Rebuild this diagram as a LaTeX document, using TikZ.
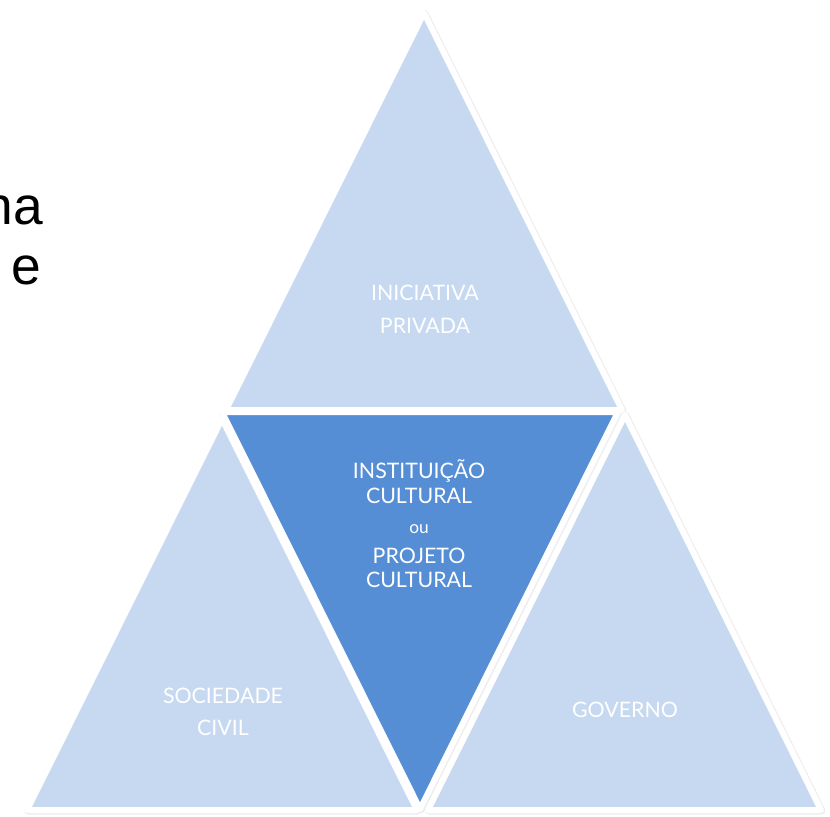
\documentclass[tikz,border=0pt]{standalone}
\usepackage{fontspec}
\setmainfont{Lato}
\newfontfamily\arialfont{Liberation Sans}

\definecolor{paleblue}{RGB}{198,217,241}
\definecolor{midblue}{RGB}{85,142,213}

\tikzset{
  halo/.style={draw=black!7, line width=5.6pt, line join=round},
  tri/.style={draw=white, line width=4.5pt, line join=round},
  lbl/.style={text=white, anchor=base, inner sep=0pt, font=\fontsize{16}{18}\selectfont}
}

\begin{document}
\begin{tikzpicture}[x=0.75pt, y=-0.75pt]
    \useasboundingbox (0,0) rectangle (830,816);
    % soft edges behind the triangles
    \begin{scope}[xshift=0.6pt, yshift=-0.6pt]
        \draw[halo] (424,13) -- (226,410) -- (622,410) -- cycle;
        \draw[halo] (222,419) -- (27,810) -- (417,810) -- cycle;
        \draw[halo] (625,415) -- (428,810) -- (821,810) -- cycle;
        \draw[halo] (222,412) -- (618,412) -- (420,809) -- cycle;
    \end{scope}
    % the four triangles
    \draw[tri, fill=paleblue] (424,13) -- (226,410) -- (622,410) -- cycle;
    \draw[tri, fill=paleblue] (222,419) -- (27,810) -- (417,810) -- cycle;
    \draw[tri, fill=paleblue] (625,415) -- (428,810) -- (821,810) -- cycle;
    \draw[tri, fill=midblue] (222,412) -- (618,412) -- (420,809) -- cycle;
    % labels
    \node[lbl] (iniciativa) at (425,300) {INICIATIVA};
    \node[lbl] (privada) at (425,333) {PRIVADA};
    \node[lbl] (instituicao) at (419,478) {INSTITUIÇÃO};
    \node[lbl] (cultural) at (419,503) {CULTURAL};
    \node[lbl, font=\fontsize{13}{15}\selectfont] (ou) at (419,533) {ou};
    \node[lbl] (projeto) at (419,563) {PROJETO};
    \node[lbl] (culturalb) at (419,587) {CULTURAL};
    \node[lbl] (sociedade) at (223,703) {SOCIEDADE};
    \node[lbl] (civil) at (223,735) {CIVIL};
    \node[lbl] (governo) at (625,717) {GOVERNO};
    % cut-off slide text on the left
    \node[anchor=base east, inner sep=0pt, font=\arialfont\fontsize{40}{48}\selectfont] (na) at (43,225) {na};
    \node[anchor=base east, inner sep=0pt, font=\arialfont\fontsize{40}{48}\selectfont] (e) at (41,284) {e};
\end{tikzpicture}
\end{document}
